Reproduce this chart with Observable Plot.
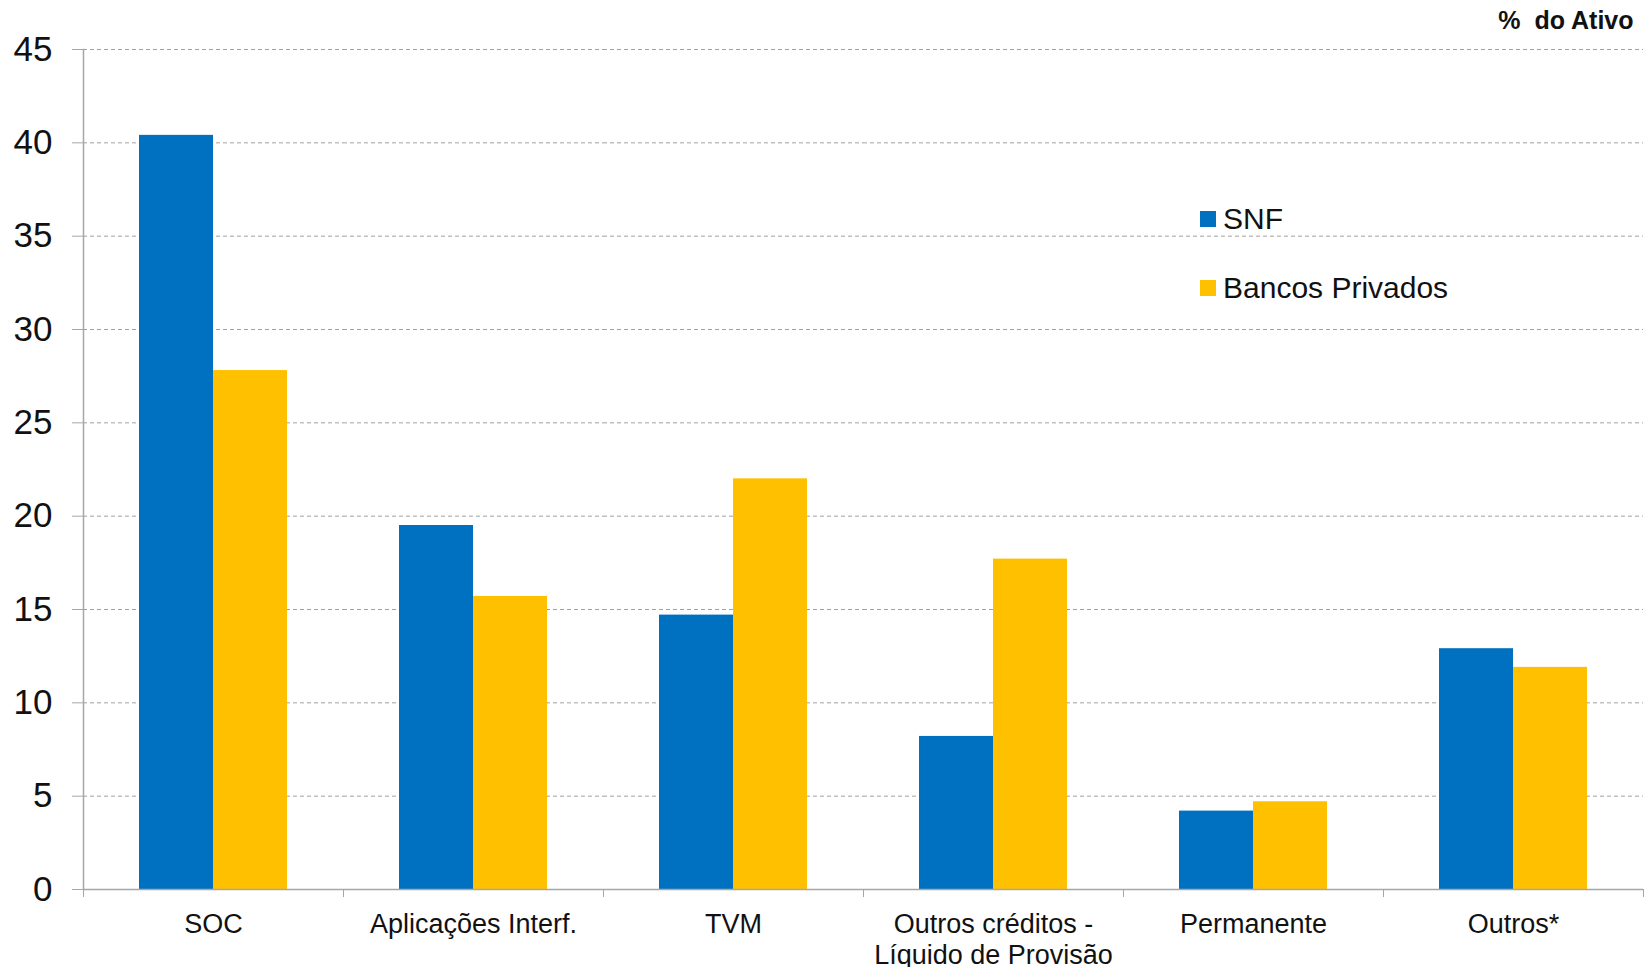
<!DOCTYPE html>
<html>
<head>
<meta charset="utf-8">
<script src="https://cdn.jsdelivr.net/npm/d3@7"></script>
<script src="https://cdn.jsdelivr.net/npm/@observablehq/plot@0.6"></script>
<style>
  html, body { margin: 0; padding: 0; background: #fff; overflow: hidden; }
  #chart { position: relative; width: 1649px; height: 967px; font-family: "Liberation Sans", Arial, sans-serif; }
  #legend { position: absolute; left: 1200px; top: 202px; }
  .lg-swatches { font-family: "Liberation Sans", Arial, sans-serif; font-size: 30px; color: #111; margin: 0; }
  .lg-swatch { line-height: 33px; padding-bottom: 36px !important; }
  .lg-swatch > svg { margin-right: 7px !important; }
</style>
</head>
<body>
<div id="chart"><div id="legend"></div></div>
<script>
// Asset composition by category, % of total assets
const categories = ["SOC", "Aplicações Interf.", "TVM", "Outros créditos -\nLíquido de Provisão", "Permanente", "Outros*"];
const seriesNames = ["SNF", "Bancos Privados"];
const snf = [40.4, 19.5, 14.7, 8.2, 4.2, 12.9];
const bancosPrivados = [27.8, 15.7, 22.0, 17.7, 4.7, 11.9];
const yTicks = [0, 5, 10, 15, 20, 25, 30, 35, 40, 45];
const unitLabel = "%\u00a0 do Ativo";
const seriesColors = ["#0070C0", "#FFC000"];

// long-format table for the grouped bars
const rows = categories.flatMap((c, i) => [
  {category: c, series: seriesNames[0], value: snf[i]},
  {category: c, series: seriesNames[1], value: bancosPrivados[i]}
]);

const W = 1649, H = 967;
const mL = 83, mR = 6, mT = 49, mB = 78;
const step = (W - mL - mR) / categories.length; // width of one category slot
const groupGap = 0.4308;                         // share of a slot left empty
const pad = step * groupGap / 2;                 // empty space on each side of a group
const axisGray = "#a6a6a6";
const textColor = "#111";

const plot = Plot.plot({
  width: W,
  height: H,
  marginLeft: mL,
  marginRight: mR,
  marginTop: mT,
  marginBottom: mB,
  style: {fontFamily: "'Liberation Sans', Arial, sans-serif", color: textColor, background: "white", overflow: "visible"},
  fx: {domain: categories, paddingInner: groupGap, paddingOuter: groupGap / 2, label: null},
  x: {domain: seriesNames, padding: 0, axis: null},
  y: {domain: [0, 45], label: null},
  color: {domain: seriesNames, range: seriesColors},
  marks: [
    // dashed gridlines stretched over the gaps so they run edge to edge
    Plot.gridY(yTicks.filter((d) => d > 0), {insetLeft: -pad, insetRight: -pad, stroke: "#a0a0a0", strokeOpacity: 1, strokeDasharray: "4 3"}),
    Plot.barY(rows, {fx: "category", x: "series", y: "value", fill: "series"}),
    Plot.ruleY([0], {insetLeft: -pad, insetRight: -pad, stroke: axisGray, strokeWidth: 1.5}),
    Plot.frame({anchor: "left", facetAnchor: "left", dx: -pad, stroke: axisGray, strokeWidth: 1.5}),
    Plot.axisY(yTicks, {dx: -pad, tickSize: 11, tickPadding: 20, fontSize: 35, stroke: axisGray, fill: textColor, label: null}),
    // category names under each group
    Plot.axisFx({anchor: "bottom", tickSize: 0, tickPadding: 21, fontSize: 27, lineHeight: 1.15, fill: textColor, label: null}),
    // tick marks on the boundaries between categories
    Plot.axisFx({anchor: "bottom", tickSize: 8, stroke: axisGray, fill: "none", dx: -step / 2, label: null}),
    Plot.axisFx({anchor: "bottom", tickSize: 8, stroke: axisGray, fill: "none", dx: step / 2, label: null}),
    Plot.text([unitLabel], {facetAnchor: "right", frameAnchor: "top-right", lineAnchor: "middle", dx: -10 + pad, dy: -29, fontSize: 25, fontWeight: "bold", textAnchor: "end", fill: textColor})
  ]
});

document.getElementById("chart").prepend(plot);

const legend = plot.legend("color", {
  className: "lg",
  columns: 1,
  swatchSize: 16,
  style: {fontSize: "30px", fontFamily: "'Liberation Sans', Arial, sans-serif", color: textColor}
});
document.getElementById("legend").append(legend);
</script>
</body>
</html>
